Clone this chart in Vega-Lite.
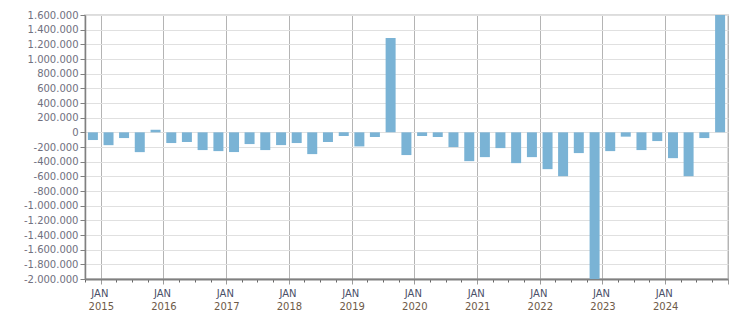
{
  "$schema": "https://vega.github.io/schema/vega-lite/v6.json",
  "width": 643,
  "height": 264,
  "autosize": {"type": "none"},
  "padding": {"left": 85, "top": 15, "right": 23, "bottom": 34},
  "background": "white",
  "config": {
    "font": "DejaVu Sans",
    "view": {"stroke": "#dcdcdc", "strokeWidth": 2}
  },
  "data": {
    "values": [
      {"date": "2014-11-15", "value": -105000},
      {"date": "2015-02-15", "value": -175000},
      {"date": "2015-05-15", "value": -78000},
      {"date": "2015-08-15", "value": -270000},
      {"date": "2015-11-15", "value": 35000},
      {"date": "2016-02-15", "value": -146000},
      {"date": "2016-05-15", "value": -132000},
      {"date": "2016-08-15", "value": -242000},
      {"date": "2016-11-15", "value": -256000},
      {"date": "2017-02-15", "value": -269000},
      {"date": "2017-05-15", "value": -160000},
      {"date": "2017-08-15", "value": -242000},
      {"date": "2017-11-15", "value": -174000},
      {"date": "2018-02-15", "value": -146000},
      {"date": "2018-05-15", "value": -297000},
      {"date": "2018-08-15", "value": -132000},
      {"date": "2018-11-15", "value": -50000},
      {"date": "2019-02-15", "value": -192000},
      {"date": "2019-05-15", "value": -64000},
      {"date": "2019-08-15", "value": 1286000},
      {"date": "2019-11-15", "value": -310000},
      {"date": "2020-02-15", "value": -50000},
      {"date": "2020-05-15", "value": -64000},
      {"date": "2020-08-15", "value": -201000},
      {"date": "2020-11-15", "value": -393000},
      {"date": "2021-02-15", "value": -338000},
      {"date": "2021-05-15", "value": -215000},
      {"date": "2021-08-15", "value": -420000},
      {"date": "2021-11-15", "value": -338000},
      {"date": "2022-02-15", "value": -502000},
      {"date": "2022-05-15", "value": -598000},
      {"date": "2022-08-15", "value": -283000},
      {"date": "2022-11-15", "value": -2000000},
      {"date": "2023-02-15", "value": -256000},
      {"date": "2023-05-15", "value": -59000},
      {"date": "2023-08-15", "value": -242000},
      {"date": "2023-11-15", "value": -119000},
      {"date": "2024-02-15", "value": -352000},
      {"date": "2024-05-15", "value": -598000},
      {"date": "2024-08-15", "value": -78000},
      {"date": "2024-11-15", "value": 1600000}
    ]
  },
  "layer": [
    {
      "mark": {"type": "bar", "color": "#7ab3d5", "width": 10, "clip": true},
      "encoding": {
        "x": {
          "field": "date",
          "type": "temporal",
          "timeUnit": "yearquarter",
          "bandPosition": 0.5,
          "title": null,
          "scale": {"domain": [{"year": 2014, "month": 10, "date": 1}, {"year": 2025, "month": 1, "date": 1}]},
          "axis": {
            "orient": "bottom",
            "tickCount": {"interval": "month", "step": 3},
            "grid": true,
            "gridColor": "#b4b4b4",
            "gridWidth": 1,
            "gridOpacity": {"condition": {"test": "month(datum.value) == 0", "value": 1}, "value": 0},
            "tickSize": {"condition": {"test": "month(datum.value) == 0", "value": 5}, "value": 3},
            "tickColor": {"condition": {"test": "month(datum.value) == 0", "value": "#9a9a9a"}, "value": "#666666"},
            "domainColor": "#808080",
            "domainWidth": 2,
            "labelExpr": "month(datum.value) == 0 && year(datum.value) < 2025 ? 'JAN' : ''",
            "labelAlign": "left",
            "labelOffset": -10,
            "labelPadding": 4,
            "labelFontSize": 10,
            "labelColor": "#4a5068",
            "labelOverlap": false,
            "labelFlush": false
          }
        },
        "y": {
          "field": "value",
          "type": "quantitative",
          "title": null,
          "scale": {"domain": [-2000000, 1600000], "nice": false, "zero": true},
          "axis": {
            "tickCount": 18,
            "grid": true,
            "gridColor": "#e0e0e0",
            "domainColor": "#808080",
            "domainWidth": 1.5,
            "tickColor": "#808080",
            "tickSize": 5,
            "labelPadding": 2,
            "labelFontSize": 10,
            "labelColor": "#707080",
            "labelExpr": "(datum.value < 0 ? '-' : '') + replace(format(abs(datum.value), ','), regexp(',', 'g'), '.')"
          }
        }
      }
    },
    {
      "mark": {"type": "bar", "opacity": 0, "width": 10},
      "encoding": {
        "x": {
          "field": "date",
          "type": "temporal",
          "timeUnit": "yearquarter",
          "bandPosition": 0.5,
          "title": null,
          "axis": {
            "orient": "bottom",
            "tickCount": {"interval": "year", "step": 1},
            "grid": false,
            "ticks": false,
            "domain": false,
            "labelExpr": "year(datum.value) < 2025 ? timeFormat(datum.value, '%Y') : ''",
            "labelAlign": "center",
            "labelPadding": 22.5,
            "labelFontSize": 10,
            "labelColor": "#6e5a48",
            "labelOverlap": false,
            "labelFlush": false
          }
        }
      }
    }
  ],
  "resolve": {"axis": {"x": "independent"}}
}
